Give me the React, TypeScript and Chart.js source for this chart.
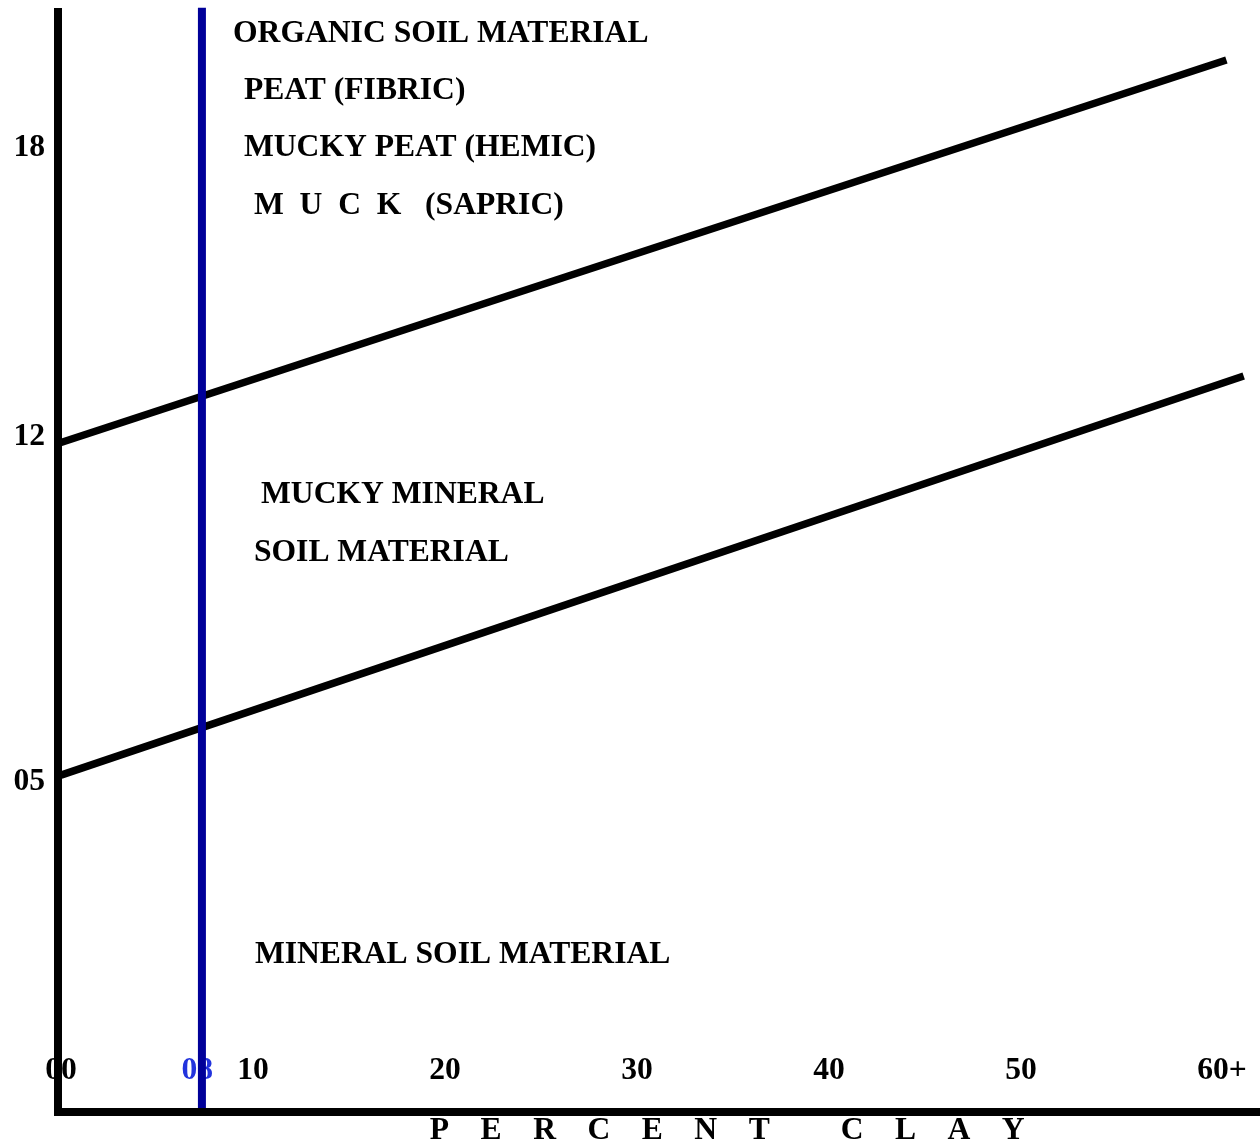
import React, { useEffect, useRef } from "react";
import { Chart, registerables } from "chart.js";

Chart.register(...registerables);

// ---- data (x = percent clay, y = percent organic carbon) ----
const xTickValues = [0, 7.1, 10, 20, 30, 40, 50, 60];
const xTickLabels = ["00", "08", "10", "20", "30", "40", "50", "60+"];
const yTickValues = [4.85, 12.12, 18.2];
const yTickLabels = ["05", "12", "18"];
const organicBoundary = [
  { x: 0, y: 12 },
  { x: 60.7, y: 20.05 },
];
const muckyBoundary = [
  { x: 0, y: 5 },
  { x: 61.6, y: 13.4 },
];
const clayMarker = 7.34;
const clayMarkerTop = 21.15;
const regionTexts = [
  "ORGANIC SOIL MATERIAL",
  "PEAT (FIBRIC)",
  "MUCKY PEAT (HEMIC)",
  "M  U  C  K   (SAPRIC)",
  "MUCKY MINERAL",
  "SOIL MATERIAL",
  "MINERAL SOIL MATERIAL",
];
const regionX = [8.96, 9.53, 9.53, 10.05, 10.42, 10.05, 10.1];
const regionY = [20.6, 19.4, 18.2, 16.98, 10.89, 9.67, 1.21];
const axisTitle = "PERCENT CLAY";
const axisTitleCenter = 34.7;

const X_MIN = -0.156;
const X_MAX = 62.45;
const Y_MIN = -2.09;
const Y_MAX = 21.06;

// ---- styles ----
const FONT_FAMILY = "'Liberation Serif', 'Times New Roman', serif";
const FONT_SIZE = 31.6;
const FONT = `bold ${FONT_SIZE}px ${FONT_FAMILY}`;
const BLUE_LINE = "#000099";
const BLUE_TEXT = "#2233dd";
const TITLE_SPACING = 31.5;

const labelsPlugin = {
  id: "soilLabels",
  beforeDatasetsDraw(chart: any) {
    const { ctx, scales, chartArea } = chart;
    const x = scales.x;
    const y = scales.y;
    ctx.save();
    ctx.font = FONT;
    ctx.textAlign = "left";
    ctx.textBaseline = "middle";
    ctx.fillStyle = "#000";
    regionTexts.forEach((t, i) => {
      ctx.fillText(t, x.getPixelForValue(regionX[i]), y.getPixelForValue(regionY[i]));
    });
    xTickValues.forEach((v, i) => {
      const lab = xTickLabels[i];
      const w = ctx.measureText(lab.slice(0, 2)).width;
      ctx.fillStyle = i === 1 ? BLUE_TEXT : "#000";
      ctx.fillText(lab, x.getPixelForValue(v) - w / 2, chartArea.bottom - 41);
    });
    // axis title, letter-spaced
    ctx.fillStyle = "#000";
    ctx.textBaseline = "alphabetic";
    const chars = axisTitle.split("");
    const widths = chars.map((c) => ctx.measureText(c).width);
    const total = widths.reduce((a, b) => a + b, 0) + TITLE_SPACING * (chars.length - 1);
    let cx = x.getPixelForValue(axisTitleCenter) - total / 2;
    chars.forEach((c, i) => {
      ctx.fillText(c, cx, chartArea.bottom + 27);
      cx += widths[i] + TITLE_SPACING;
    });
    ctx.restore();
  },
};

export default function App() {
  const ref = useRef<HTMLCanvasElement>(null);
  useEffect(() => {
    const chart = new Chart(ref.current as HTMLCanvasElement, {
      type: "line",
      data: {
        datasets: [
          {
            label: "clay marker",
            data: [
              { x: clayMarker, y: Y_MIN },
              { x: clayMarker, y: clayMarkerTop },
            ],
            borderColor: BLUE_LINE,
            borderWidth: 8,
            pointRadius: 0,
            clip: 6,
            order: 0,
          },
          {
            label: "organic boundary",
            data: organicBoundary,
            borderColor: "#000",
            borderWidth: 7.5,
            pointRadius: 0,
            order: 1,
          },
          {
            label: "mucky boundary",
            data: muckyBoundary,
            borderColor: "#000",
            borderWidth: 7.5,
            pointRadius: 0,
            order: 1,
          },
        ],
      },
      options: {
        animation: false,
        responsive: false,
        devicePixelRatio: 1,
        layout: { padding: { top: 12, left: 0, right: 0, bottom: 0 } },
        plugins: { legend: { display: false }, tooltip: { enabled: false } },
        events: [],
        scales: {
          x: {
            type: "linear",
            min: X_MIN,
            max: X_MAX,
            ticks: { display: false },
            grid: { display: false, drawTicks: false },
            border: { display: true, color: "#000", width: 8, z: 1 },
            afterFit: (s: any) => {
              s.height = 32;
              s.paddingLeft = 0;
              s.paddingRight = 0;
            },
          },
          y: {
            type: "linear",
            min: Y_MIN,
            max: Y_MAX,
            afterBuildTicks: (s: any) => {
              s.ticks = yTickValues.map((v) => ({ value: v }));
            },
            ticks: {
              autoSkip: false,
              padding: 13,
              color: "#000",
              font: { family: FONT_FAMILY, size: FONT_SIZE, weight: "bold" },
              callback: (_v: any, i: number) => yTickLabels[i],
            },
            grid: { display: false, drawTicks: false },
            border: { display: true, color: "#000", width: 8, z: 1 },
            afterFit: (s: any) => {
              s.width = 58;
              s.paddingTop = 0;
              s.paddingBottom = 0;
            },
          },
        },
      },
      plugins: [labelsPlugin],
    } as any);
    return () => chart.destroy();
  }, []);
  return (
    <div
      style={{
        position: "fixed",
        left: 0,
        top: 0,
        width: 1260,
        height: 1144,
        background: "#fff",
      }}
    >
      <canvas ref={ref} width={1260} height={1144} style={{ display: "block", width: 1260, height: 1144 }} />
    </div>
  );
}
